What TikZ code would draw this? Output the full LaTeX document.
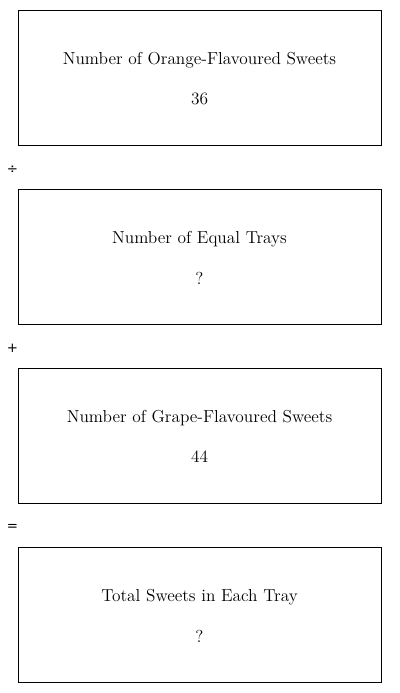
\documentclass[tikz,border=0pt]{standalone}
\usepackage{fontspec}
\newfontfamily\opfont{DejaVu Sans}
\begin{document}
\begin{tikzpicture}[x=0.75pt, y=-0.75pt,
  box/.style={draw, line width=0.75pt, minimum width=272.25pt, minimum height=101.25pt, inner sep=0pt},
  txt/.style={font=\fontsize{13}{15}\selectfont, inner sep=0pt},
  op/.style={font=\opfont\fontsize{10}{12}\selectfont, inner sep=0pt}]
  \useasboundingbox (0,0) rectangle (400,693);

  \node[box] (orange) at (199.5, 77.5) {};
  \node[box] (trays) at (199.5, 256.5) {};
  \node[box] (grape) at (199.5, 435.5) {};
  \node[box] (total) at (199.5, 614.5) {};

  \node[txt] (orangeT) at (199.5, 60) {Number of Orange-Flavoured Sweets};
  \node[txt] (orangeV) at (199.5, 99) {36};
  \node[txt] (traysT) at (199.5, 239) {Number of Equal Trays};
  \node[txt] (traysV) at (199.5, 278) {?};
  \node[txt] (grapeT) at (199.5, 418) {Number of Grape-Flavoured Sweets};
  \node[txt] (grapeV) at (199.5, 457) {44};
  \node[txt] (totalT) at (199.5, 597) {Total Sweets in Each Tray};
  \node[txt] (totalV) at (199.5, 636) {?};

  \node[op] (div) at (12.5, 169.5) {÷};
  \node[op] (plus) at (12.5, 348.5) {+};
  \node[op] (eq) at (12.5, 527.5) {=};
\end{tikzpicture}
\end{document}
